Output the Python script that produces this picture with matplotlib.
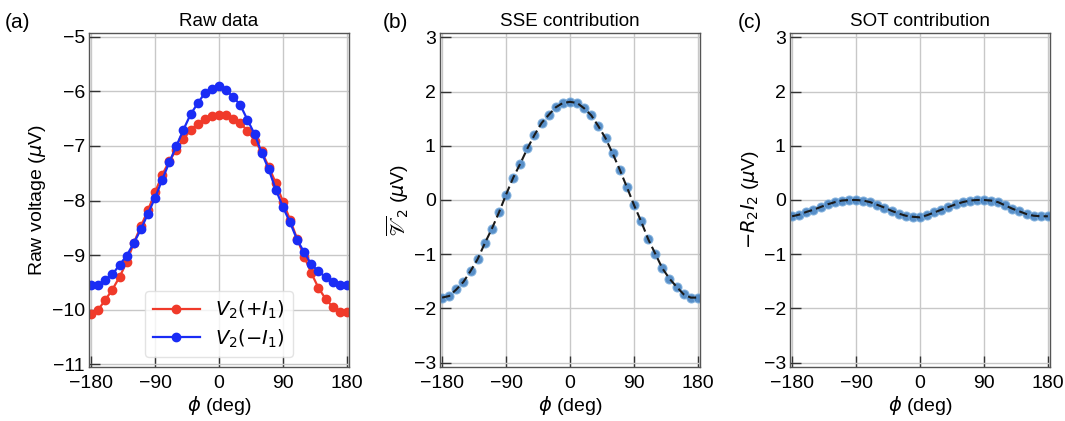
import numpy as np
import matplotlib
matplotlib.use("Agg")
import matplotlib.pyplot as plt

plt.rcParams['font.family'] = ['Liberation Sans', 'DejaVu Sans']
plt.rcParams['mathtext.fontset'] = 'dejavusans'

phi = list(range(-180, 181, 10))

v_plus = [-10.07, -10.00, -9.82, -9.63, -9.40, -9.13, -8.78, -8.47, -8.18, -7.85,
          -7.53, -7.28, -7.07, -6.88, -6.70, -6.60, -6.50, -6.45, -6.44, -6.44,
          -6.50, -6.58, -6.72, -6.90, -7.10, -7.38, -7.68, -8.02, -8.35, -8.70,
          -9.03, -9.33, -9.60, -9.80, -9.95, -10.04, -10.04]
v_minus = [-9.55, -9.55, -9.45, -9.35, -9.18, -9.01, -8.78, -8.53, -8.24, -7.95,
           -7.62, -7.30, -7.00, -6.70, -6.42, -6.22, -6.03, -5.95, -5.90, -5.98,
           -6.10, -6.25, -6.52, -6.78, -7.12, -7.43, -7.80, -8.12, -8.40, -8.72,
           -8.95, -9.17, -9.30, -9.40, -9.50, -9.55, -9.55]
sse = [-1.80, -1.77, -1.65, -1.51, -1.31, -1.09, -0.80, -0.53, -0.23, 0.10,
       0.41, 0.67, 0.95, 1.20, 1.42, 1.57, 1.71, 1.79, 1.81, 1.79,
       1.69, 1.56, 1.36, 1.14, 0.86, 0.56, 0.24, -0.09, -0.39, -0.72,
       -0.99, -1.26, -1.45, -1.60, -1.74, -1.80, -1.80]
sot = [-0.30, -0.27, -0.22, -0.18, -0.13, -0.08, -0.04, -0.01, 0.00, 0.00,
       -0.01, -0.04, -0.09, -0.14, -0.20, -0.25, -0.29, -0.31, -0.32, -0.28,
       -0.23, -0.18, -0.13, -0.08, -0.04, -0.01, 0.00, 0.00, -0.01, -0.04,
       -0.10, -0.16, -0.21, -0.26, -0.29, -0.30, -0.30]

xticks = [-180, -90, 0, 90, 180]
xticklabels = ['\u2212180', '\u221290', '0', '90', '180']

fig = plt.figure(figsize=(10.65, 4.21), dpi=100)
W, H = 1065, 421
def add_ax(left):
    return fig.add_axes([left / W, (H - 367) / H, 260 / W, 334 / H])

axa = add_ax(89)
axb = add_ax(440)
axc = add_ax(790)

def style(ax):
    ax.set_xlim(-183, 183)
    ax.set_xticks(xticks)
    ax.set_xticklabels(xticklabels)
    ax.grid(True, color='#c8c8c8', linewidth=1.0)
    ax.set_axisbelow(True)
    ax.tick_params(direction='in', length=8, width=1.0, labelsize=14,
                   colors='#333333', labelcolor='black', pad=3)
    ax.tick_params(axis='x', pad=6)
    for s in ax.spines.values():
        s.set_color('#555555')
        s.set_linewidth(1.0)
    ax.set_xlabel(r'$\phi$ (deg)', fontsize=14, labelpad=1)

red = '#f03a2a'
blue = '#1a2cf5'
axa.plot(phi, v_plus, '-o', color=red, ms=6, lw=1.6, label=r'$V_2(+I_1)$')
axa.plot(phi, v_minus, '-o', color=blue, ms=6, lw=1.6, label=r'$V_2(-I_1)$')
style(axa)
axa.set_ylim(-11.05, -4.93)
axa.set_yticks([-11, -10, -9, -8, -7, -6, -5])
axa.set_yticklabels(['\u221211', '\u221210', '\u22129', '\u22128', '\u22127', '\u22126', '\u22125'])
axa.set_ylabel(r'Raw voltage ($\mu$V)', fontsize=14, labelpad=3)
axa.set_title('Raw data', fontsize=13.5, pad=5)
leg = axa.legend(loc='lower center', fontsize=14, frameon=True, handlelength=2.4,
                 borderpad=0.4, labelspacing=0.3, bbox_to_anchor=(0.5, 0.0))
leg.get_frame().set_edgecolor('#dddddd')

ptcol = '#3b7bbf'
for ax, data, ylab, title in [
    (axb, sse, r'$\overline{\mathscr{V}}_2$ ($\mu$V)', 'SSE contribution'),
    (axc, sot, r'$-R_2I_2$ ($\mu$V)', 'SOT contribution'),
]:
    ax.plot(phi, data, 'o', color=ptcol, ms=6.5, alpha=0.85, mec='#7fb0dd', mew=0.8)
    ax.plot(phi, data, '--', color='#1a1a1a', lw=1.5, dashes=(4, 2))
    style(ax)
    ax.set_ylim(-3.08, 3.08)
    ax.set_yticks([-3, -2, -1, 0, 1, 2, 3])
    ax.set_yticklabels(['\u22123', '\u22122', '\u22121', '0', '1', '2', '3'])
    ax.set_ylabel(ylab, fontsize=14, labelpad=2)
    ax.set_title(title, fontsize=13.5, pad=5)

fig.text(5 / W, 1 - 22 / H, '(a)', fontsize=15, va='center', ha='left')
fig.text(383 / W, 1 - 22 / H, '(b)', fontsize=15, va='center', ha='left')
fig.text(738 / W, 1 - 22 / H, '(c)', fontsize=15, va='center', ha='left')

fig.savefig('out.png', dpi=100)
